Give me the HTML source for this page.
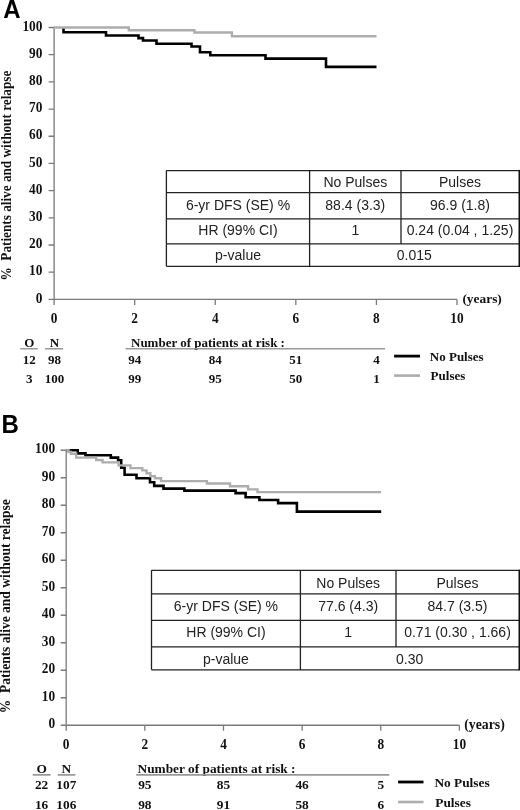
<!DOCTYPE html>
<html><head><meta charset="utf-8"><title>Kaplan-Meier DFS curves</title>
<style>
html,body{margin:0;padding:0;background:#fff;}
body{width:520px;height:810px;overflow:hidden;}
svg{display:block;}
.tl{font-family:"Liberation Serif", "Times New Roman", serif;font-weight:bold;font-size:13px;fill:#111;}
.tk{font-family:"Liberation Serif", "Times New Roman", serif;font-weight:bold;font-size:15px;fill:#111;}
.pB .tl{font-size:13.35px;}
.tt{font-family:"Liberation Sans", Arial, sans-serif;font-size:14px;letter-spacing:0px;fill:#222;}
</style></head><body>
<svg width="520" height="810" viewBox="0 0 520 810">
<rect width="520" height="810" fill="#fff"/>
<g class="pA">
<text transform="translate(3.3,17.8) scale(0.96,1)" font-family='"Liberation Sans", Arial, sans-serif' font-weight="bold" font-size="25" fill="#000">A</text>
<path d="M54.1,27.5 V304.9 M48.6,299.4 H457.0 M48.6,272.21 H54.1 M48.6,245.02 H54.1 M48.6,217.83 H54.1 M48.6,190.64 H54.1 M48.6,163.45 H54.1 M48.6,136.26 H54.1 M48.6,109.07 H54.1 M48.6,81.88 H54.1 M48.6,54.69 H54.1 M48.6,27.50 H54.1 M134.68,299.4 V304.9 M215.26,299.4 V304.9 M295.84,299.4 V304.9 M376.42,299.4 V304.9 M457.00,299.4 V304.9" stroke="#7a7a7a" stroke-width="1.3" fill="none"/>
<text transform="translate(42.4,302.50) scale(0.89,1)" text-anchor="end" class="tk">0</text>
<text transform="translate(42.4,275.31) scale(0.89,1)" text-anchor="end" class="tk">10</text>
<text transform="translate(42.4,248.12) scale(0.89,1)" text-anchor="end" class="tk">20</text>
<text transform="translate(42.4,220.93) scale(0.89,1)" text-anchor="end" class="tk">30</text>
<text transform="translate(42.4,193.74) scale(0.89,1)" text-anchor="end" class="tk">40</text>
<text transform="translate(42.4,166.55) scale(0.89,1)" text-anchor="end" class="tk">50</text>
<text transform="translate(42.4,139.36) scale(0.89,1)" text-anchor="end" class="tk">60</text>
<text transform="translate(42.4,112.17) scale(0.89,1)" text-anchor="end" class="tk">70</text>
<text transform="translate(42.4,84.98) scale(0.89,1)" text-anchor="end" class="tk">80</text>
<text transform="translate(42.4,57.79) scale(0.89,1)" text-anchor="end" class="tk">90</text>
<text transform="translate(42.4,30.60) scale(0.89,1)" text-anchor="end" class="tk">100</text>
<text transform="translate(54.10,323) scale(0.89,1)" text-anchor="middle" class="tk">0</text>
<text transform="translate(134.68,323) scale(0.89,1)" text-anchor="middle" class="tk">2</text>
<text transform="translate(215.26,323) scale(0.89,1)" text-anchor="middle" class="tk">4</text>
<text transform="translate(295.84,323) scale(0.89,1)" text-anchor="middle" class="tk">6</text>
<text transform="translate(376.42,323) scale(0.89,1)" text-anchor="middle" class="tk">8</text>
<text transform="translate(457.00,323) scale(0.89,1)" text-anchor="middle" class="tk">10</text>
<text x="462.4" y="303" class="tl" style="font-size:13.4px">(years)</text>
<text transform="translate(10.5,175.6) rotate(-90) scale(0.906,1)" text-anchor="middle" class="tl" style="font-size:14.6px" xml:space="preserve">%  Patients alive and without relapse</text>
<path d="M63.5,27.5 V32.3 H106 V35.5 H138.5 V38.1 H143 V40.5 H156.5 V43.8 H191.5 V46.5 H200 V52.3 H210.3 V55.3 H265.5 V58.6 H326 V66.9 H376.5" stroke="#000" stroke-width="2.6" fill="none" stroke-linejoin="miter"/>
<path d="M54,27.5 H128.8 V30.2 H194.4 V32.5 H231.9 V36.3 H376.5" stroke="#adadad" stroke-width="2.4" fill="none" stroke-linejoin="miter"/>
<path d="M166.4,170.6 H519 M166.4,192.7 H519 M166.4,218.9 H519 M166.4,243.8 H519 M166.4,266.3 H519 M166.4,170.6 V266.3 M309.6,170.6 V266.3 M401,170.6 V243.8" stroke="#222" stroke-width="1.3" fill="none"/>
<rect x="518.5" y="169.9" width="2" height="97.10000000000002" fill="#111"/>
<text x="355.30" y="186.9" text-anchor="middle" class="tt">No Pulses</text>
<text x="460.00" y="186.9" text-anchor="middle" class="tt">Pulses</text>
<text x="238.00" y="209.6" text-anchor="middle" class="tt">6-yr DFS (SE) %</text>
<text x="355.30" y="209.6" text-anchor="middle" class="tt">88.4 (3.3)</text>
<text x="460.00" y="209.6" text-anchor="middle" class="tt">96.9 (1.8)</text>
<text x="238.00" y="234.6" text-anchor="middle" class="tt">HR (99% CI)</text>
<text x="355.30" y="234.6" text-anchor="middle" class="tt">1</text>
<text x="460.00" y="234.6" text-anchor="middle" class="tt">0.24 (0.04 , 1.25)</text>
<text x="238.00" y="259.5" text-anchor="middle" class="tt">p-value</text>
<text x="414.30" y="259.5" text-anchor="middle" class="tt">0.015</text>
<text x="29.2" y="346.5" text-anchor="middle" class="tl">O</text>
<text x="54.5" y="346.5" text-anchor="middle" class="tl">N</text>
<text x="131" y="346.5" class="tl">Number of patients at risk :</text>
<path d="M20.2,348.7 H37.8 M45,348.7 H63.1 M125.6,348.7 H385" stroke="#999" stroke-width="1.6" fill="none"/>
<text x="29.2" y="363.7" text-anchor="middle" class="tl">12</text>
<text x="54.5" y="363.7" text-anchor="middle" class="tl">98</text>
<text x="134.68" y="363.7" text-anchor="middle" class="tl">94</text>
<text x="215.26" y="363.7" text-anchor="middle" class="tl">84</text>
<text x="295.84" y="363.7" text-anchor="middle" class="tl">51</text>
<text x="376.42" y="363.7" text-anchor="middle" class="tl">4</text>
<text x="29.2" y="383.1" text-anchor="middle" class="tl">3</text>
<text x="54.5" y="383.1" text-anchor="middle" class="tl">100</text>
<text x="134.68" y="383.1" text-anchor="middle" class="tl">99</text>
<text x="215.26" y="383.1" text-anchor="middle" class="tl">95</text>
<text x="295.84" y="383.1" text-anchor="middle" class="tl">50</text>
<text x="376.42" y="383.1" text-anchor="middle" class="tl">1</text>
<path d="M394.1,356.1 H420" stroke="#000" stroke-width="2.8"/>
<path d="M394.1,375.6 H420" stroke="#adadad" stroke-width="2.6"/>
<text x="429.8" y="360.6" class="tl">No Pulses</text>
<text x="430.6" y="380.3" class="tl">Pulses</text>
</g>
<g class="pB">
<text transform="translate(1.6,432.6) scale(0.96,1)" font-family='"Liberation Sans", Arial, sans-serif' font-weight="bold" font-size="25" fill="#000">B</text>
<path d="M66.2,450.25 V730.75 M60.7,725.25 H459.4 M60.7,697.75 H66.2 M60.7,670.25 H66.2 M60.7,642.75 H66.2 M60.7,615.25 H66.2 M60.7,587.75 H66.2 M60.7,560.25 H66.2 M60.7,532.75 H66.2 M60.7,505.25 H66.2 M60.7,477.75 H66.2 M60.7,450.25 H66.2 M144.84,725.25 V730.75 M223.48,725.25 V730.75 M302.12,725.25 V730.75 M380.76,725.25 V730.75 M459.40,725.25 V730.75" stroke="#7a7a7a" stroke-width="1.3" fill="none"/>
<text transform="translate(55.1,728.25) scale(0.89,1)" text-anchor="end" class="tk">0</text>
<text transform="translate(55.1,700.75) scale(0.89,1)" text-anchor="end" class="tk">10</text>
<text transform="translate(55.1,673.25) scale(0.89,1)" text-anchor="end" class="tk">20</text>
<text transform="translate(55.1,645.75) scale(0.89,1)" text-anchor="end" class="tk">30</text>
<text transform="translate(55.1,618.25) scale(0.89,1)" text-anchor="end" class="tk">40</text>
<text transform="translate(55.1,590.75) scale(0.89,1)" text-anchor="end" class="tk">50</text>
<text transform="translate(55.1,563.25) scale(0.89,1)" text-anchor="end" class="tk">60</text>
<text transform="translate(55.1,535.75) scale(0.89,1)" text-anchor="end" class="tk">70</text>
<text transform="translate(55.1,508.25) scale(0.89,1)" text-anchor="end" class="tk">80</text>
<text transform="translate(55.1,480.75) scale(0.89,1)" text-anchor="end" class="tk">90</text>
<text transform="translate(55.1,453.25) scale(0.89,1)" text-anchor="end" class="tk">100</text>
<text transform="translate(66.20,748.8) scale(0.89,1)" text-anchor="middle" class="tk">0</text>
<text transform="translate(144.84,748.8) scale(0.89,1)" text-anchor="middle" class="tk">2</text>
<text transform="translate(223.48,748.8) scale(0.89,1)" text-anchor="middle" class="tk">4</text>
<text transform="translate(302.12,748.8) scale(0.89,1)" text-anchor="middle" class="tk">6</text>
<text transform="translate(380.76,748.8) scale(0.89,1)" text-anchor="middle" class="tk">8</text>
<text transform="translate(459.40,748.8) scale(0.89,1)" text-anchor="middle" class="tk">10</text>
<text x="464.2" y="729" class="tl" style="font-size:13.8px">(years)</text>
<text transform="translate(10.2,606.3) rotate(-90) scale(0.924,1)" text-anchor="middle" class="tl" style="font-size:14.6px" xml:space="preserve">%  Patients alive and without relapse</text>
<path d="M66.2,450.3 H77.7 V453.4 H85.5 V455.2 H110.8 V457.6 H118.1 V460.2 H121.2 V467.8 H124.6 V474.8 H136.5 V478.2 H150 V482.3 H154.2 V485.9 H163.5 V488.6 H184.4 V490.6 H235.6 V493.1 H245.6 V497.2 H259.4 V500 H278.1 V503.1 H296.9 V511.6 H381.2" stroke="#000" stroke-width="2.6" fill="none" stroke-linejoin="miter"/>
<path d="M66.2,450.2 H68.5 V452 H71 V453.8 H76.2 V457.6 H96.2 V460 H102.5 V462.4 H118.5 V465.4 H130.5 V468.1 H142.3 V470.4 H146.5 V473.3 H150.4 V476.3 H155 V478.3 H161 V481.1 H206.9 V483.5 H230 V486.3 H248.1 V489.4 H257.5 V492.1 H381.1" stroke="#adadad" stroke-width="2.4" fill="none" stroke-linejoin="miter"/>
<path d="M151.5,570.3 H519 M151.5,593.8 H519 M151.5,620.3 H519 M151.5,646.9 H519 M151.5,669.8 H519 M151.5,570.3 V669.8 M300.4,570.3 V669.8 M396,570.3 V646.9" stroke="#222" stroke-width="1.3" fill="none"/>
<rect x="518.5" y="569.5999999999999" width="2" height="100.9" fill="#111"/>
<text x="348.20" y="587.6" text-anchor="middle" class="tt">No Pulses</text>
<text x="457.50" y="587.6" text-anchor="middle" class="tt">Pulses</text>
<text x="225.95" y="610.5" text-anchor="middle" class="tt">6-yr DFS (SE) %</text>
<text x="348.20" y="610.5" text-anchor="middle" class="tt">77.6 (4.3)</text>
<text x="457.50" y="610.5" text-anchor="middle" class="tt">84.7 (3.5)</text>
<text x="225.95" y="636.6" text-anchor="middle" class="tt">HR (99% CI)</text>
<text x="348.20" y="636.6" text-anchor="middle" class="tt">1</text>
<text x="457.50" y="636.6" text-anchor="middle" class="tt">0.71 (0.30 , 1.66)</text>
<text x="225.95" y="663.8" text-anchor="middle" class="tt">p-value</text>
<text x="409.70" y="663.8" text-anchor="middle" class="tt">0.30</text>
<text x="41.6" y="773" text-anchor="middle" class="tl">O</text>
<text x="66.3" y="773" text-anchor="middle" class="tl">N</text>
<text x="137.5" y="773" class="tl">Number of patients at risk :</text>
<path d="M32.7,774.9 H50.6 M57.7,774.9 H75.3 M136.2,774.9 H389.3" stroke="#999" stroke-width="1.6" fill="none"/>
<text x="41.6" y="789.4" text-anchor="middle" class="tl">22</text>
<text x="66.3" y="789.4" text-anchor="middle" class="tl">107</text>
<text x="144.84" y="789.4" text-anchor="middle" class="tl">95</text>
<text x="223.48" y="789.4" text-anchor="middle" class="tl">85</text>
<text x="302.12" y="789.4" text-anchor="middle" class="tl">46</text>
<text x="380.76" y="789.4" text-anchor="middle" class="tl">5</text>
<text x="41.6" y="809.4" text-anchor="middle" class="tl">16</text>
<text x="66.3" y="809.4" text-anchor="middle" class="tl">106</text>
<text x="144.84" y="809.4" text-anchor="middle" class="tl">98</text>
<text x="223.48" y="809.4" text-anchor="middle" class="tl">91</text>
<text x="302.12" y="809.4" text-anchor="middle" class="tl">58</text>
<text x="380.76" y="809.4" text-anchor="middle" class="tl">6</text>
<path d="M398.1,782 H423.5" stroke="#000" stroke-width="2.8"/>
<path d="M398.1,802 H423.5" stroke="#adadad" stroke-width="2.6"/>
<text x="434.4" y="787.3" class="tl">No Pulses</text>
<text x="435.3" y="806.9" class="tl">Pulses</text>
</g>
</svg>
</body></html>
